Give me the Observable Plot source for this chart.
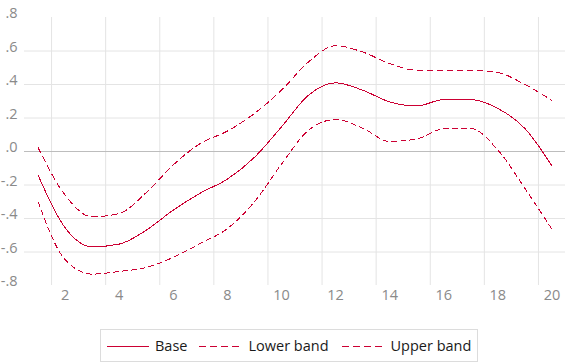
<!DOCTYPE html>
<html>
<head>
<meta charset="utf-8">
<script src="https://cdn.jsdelivr.net/npm/d3@7"></script>
<script src="https://cdn.jsdelivr.net/npm/@observablehq/plot@0.6"></script>
<style>
  html, body { margin: 0; padding: 0; background: #fff; }
  body { width: 567px; height: 363px; overflow: hidden; font-family: "Open Sans", sans-serif; }
  #legend {
    position: absolute; left: 100px; top: 329px; width: 376px; height: 31px;
    border: 1px solid #dcdcdc; display: flex; align-items: center;
    font-size: 14.5px; color: #1a1a1a; box-sizing: content-box;
  }
  #legend .item { display: flex; align-items: center; }
  #legend svg { display: block; }
</style>
</head>
<body>
<div id="chart"></div>
<div id="legend"></div>
<script>
const xs = [1,2,3,4,5,6,7,8,9,10,11,12,13,14,15,16,17,18,19,20];
const base =  [-0.141,-0.455,-0.569,-0.553,-0.470,-0.350,-0.248,-0.165,-0.035,0.147,0.336,0.410,0.366,0.296,0.272,0.310,0.310,0.257,0.137,-0.086];
const lower = [0.024,-0.260,-0.390,-0.370,-0.245,-0.080,0.048,0.122,0.227,0.366,0.535,0.631,0.594,0.525,0.485,0.483,0.485,0.471,0.400,0.305];
const upper = [-0.300,-0.645,-0.732,-0.716,-0.692,-0.632,-0.549,-0.460,-0.300,-0.076,0.127,0.191,0.139,0.060,0.075,0.135,0.137,0.008,-0.220,-0.465];
const seriesNames = ["Base", "Lower band", "Upper band"];
const yTicks = [-0.8,-0.6,-0.4,-0.2,0,0.2,0.4,0.6,0.8];
const xTicks = [2,4,6,8,10,12,14,16,18,20];
const xGrid = [1.5,3.5,5.5,7.5,9.5,11.5,13.5,15.5,17.5,19.5];
const yGrid = [-0.6,-0.4,-0.2,0.2,0.4,0.6];

const color = "#cc0033";
const dashes = {"Base": null, "Lower band": "6,4", "Upper band": "5,4"};
const values = {"Base": base, "Lower band": lower, "Upper band": upper};

const data = seriesNames.flatMap(s => xs.map((x, i) => ({series: s, x, y: values[s][i]})));

const fmt = d => d3.format(".1f")(d).replace("\u2212", "-").replace("0.", ".");

const lineMarks = seriesNames.map(s => Plot.line(data.filter(d => d.series === s), {
  x: "x", y: "y", stroke: color, strokeWidth: 1, curve: "monotone-x",
  strokeDasharray: dashes[s] || undefined, shapeRendering: "crispEdges"
}));

const chart = Plot.plot({
  width: 567, height: 318,
  marginTop: 17, marginBottom: 33, marginLeft: 24, marginRight: 2,
  style: {fontFamily: "Open Sans", fontSize: "14.5px", background: "#fff"},
  x: {domain: [0.5, 20.5], axis: null},
  y: {domain: [-0.8, 0.8], axis: null},
  marks: [
    Plot.ruleX(xGrid, {stroke: "#e4e4e4", strokeWidth: 1}),
    Plot.ruleY(yGrid, {stroke: "#e4e4e4", strokeWidth: 1}),
    Plot.ruleY([0], {stroke: "#bdbdbd", strokeWidth: 1}),
    Plot.axisY(yTicks, {tickSize: 0, tickPadding: 7, tickFormat: fmt, fill: "#8a8a8a", dy: -4, fontSize: 14.5, label: null}),
    Plot.axisX(xTicks, {tickSize: 0, tickPadding: 4, tickFormat: d => String(d), fill: "#8a8a8a", fontSize: 14.5, label: null}),
    ...lineMarks
  ]
});
document.getElementById("chart").appendChild(chart);

// Legend
const legend = d3.select("#legend");
const itemLayout = [
  {name: "Base", pad: 6, gap: 6},
  {name: "Lower band", pad: 12, gap: 7},
  {name: "Upper band", pad: 13, gap: 7}
];
itemLayout.forEach(it => {
  const item = legend.append("div").attr("class", "item").style("margin-left", it.pad + "px");
  const svg = item.append("svg").attr("width", 42).attr("height", 10);
  svg.append("line").attr("x1", 0).attr("x2", 42).attr("y1", 5.5).attr("y2", 5.5)
    .attr("stroke", color).attr("stroke-width", 1)
    .attr("stroke-dasharray", it.name === "Base" ? null : "7,4");
  item.append("span").style("margin-left", it.gap + "px").text(it.name);
});
</script>
</body>
</html>
